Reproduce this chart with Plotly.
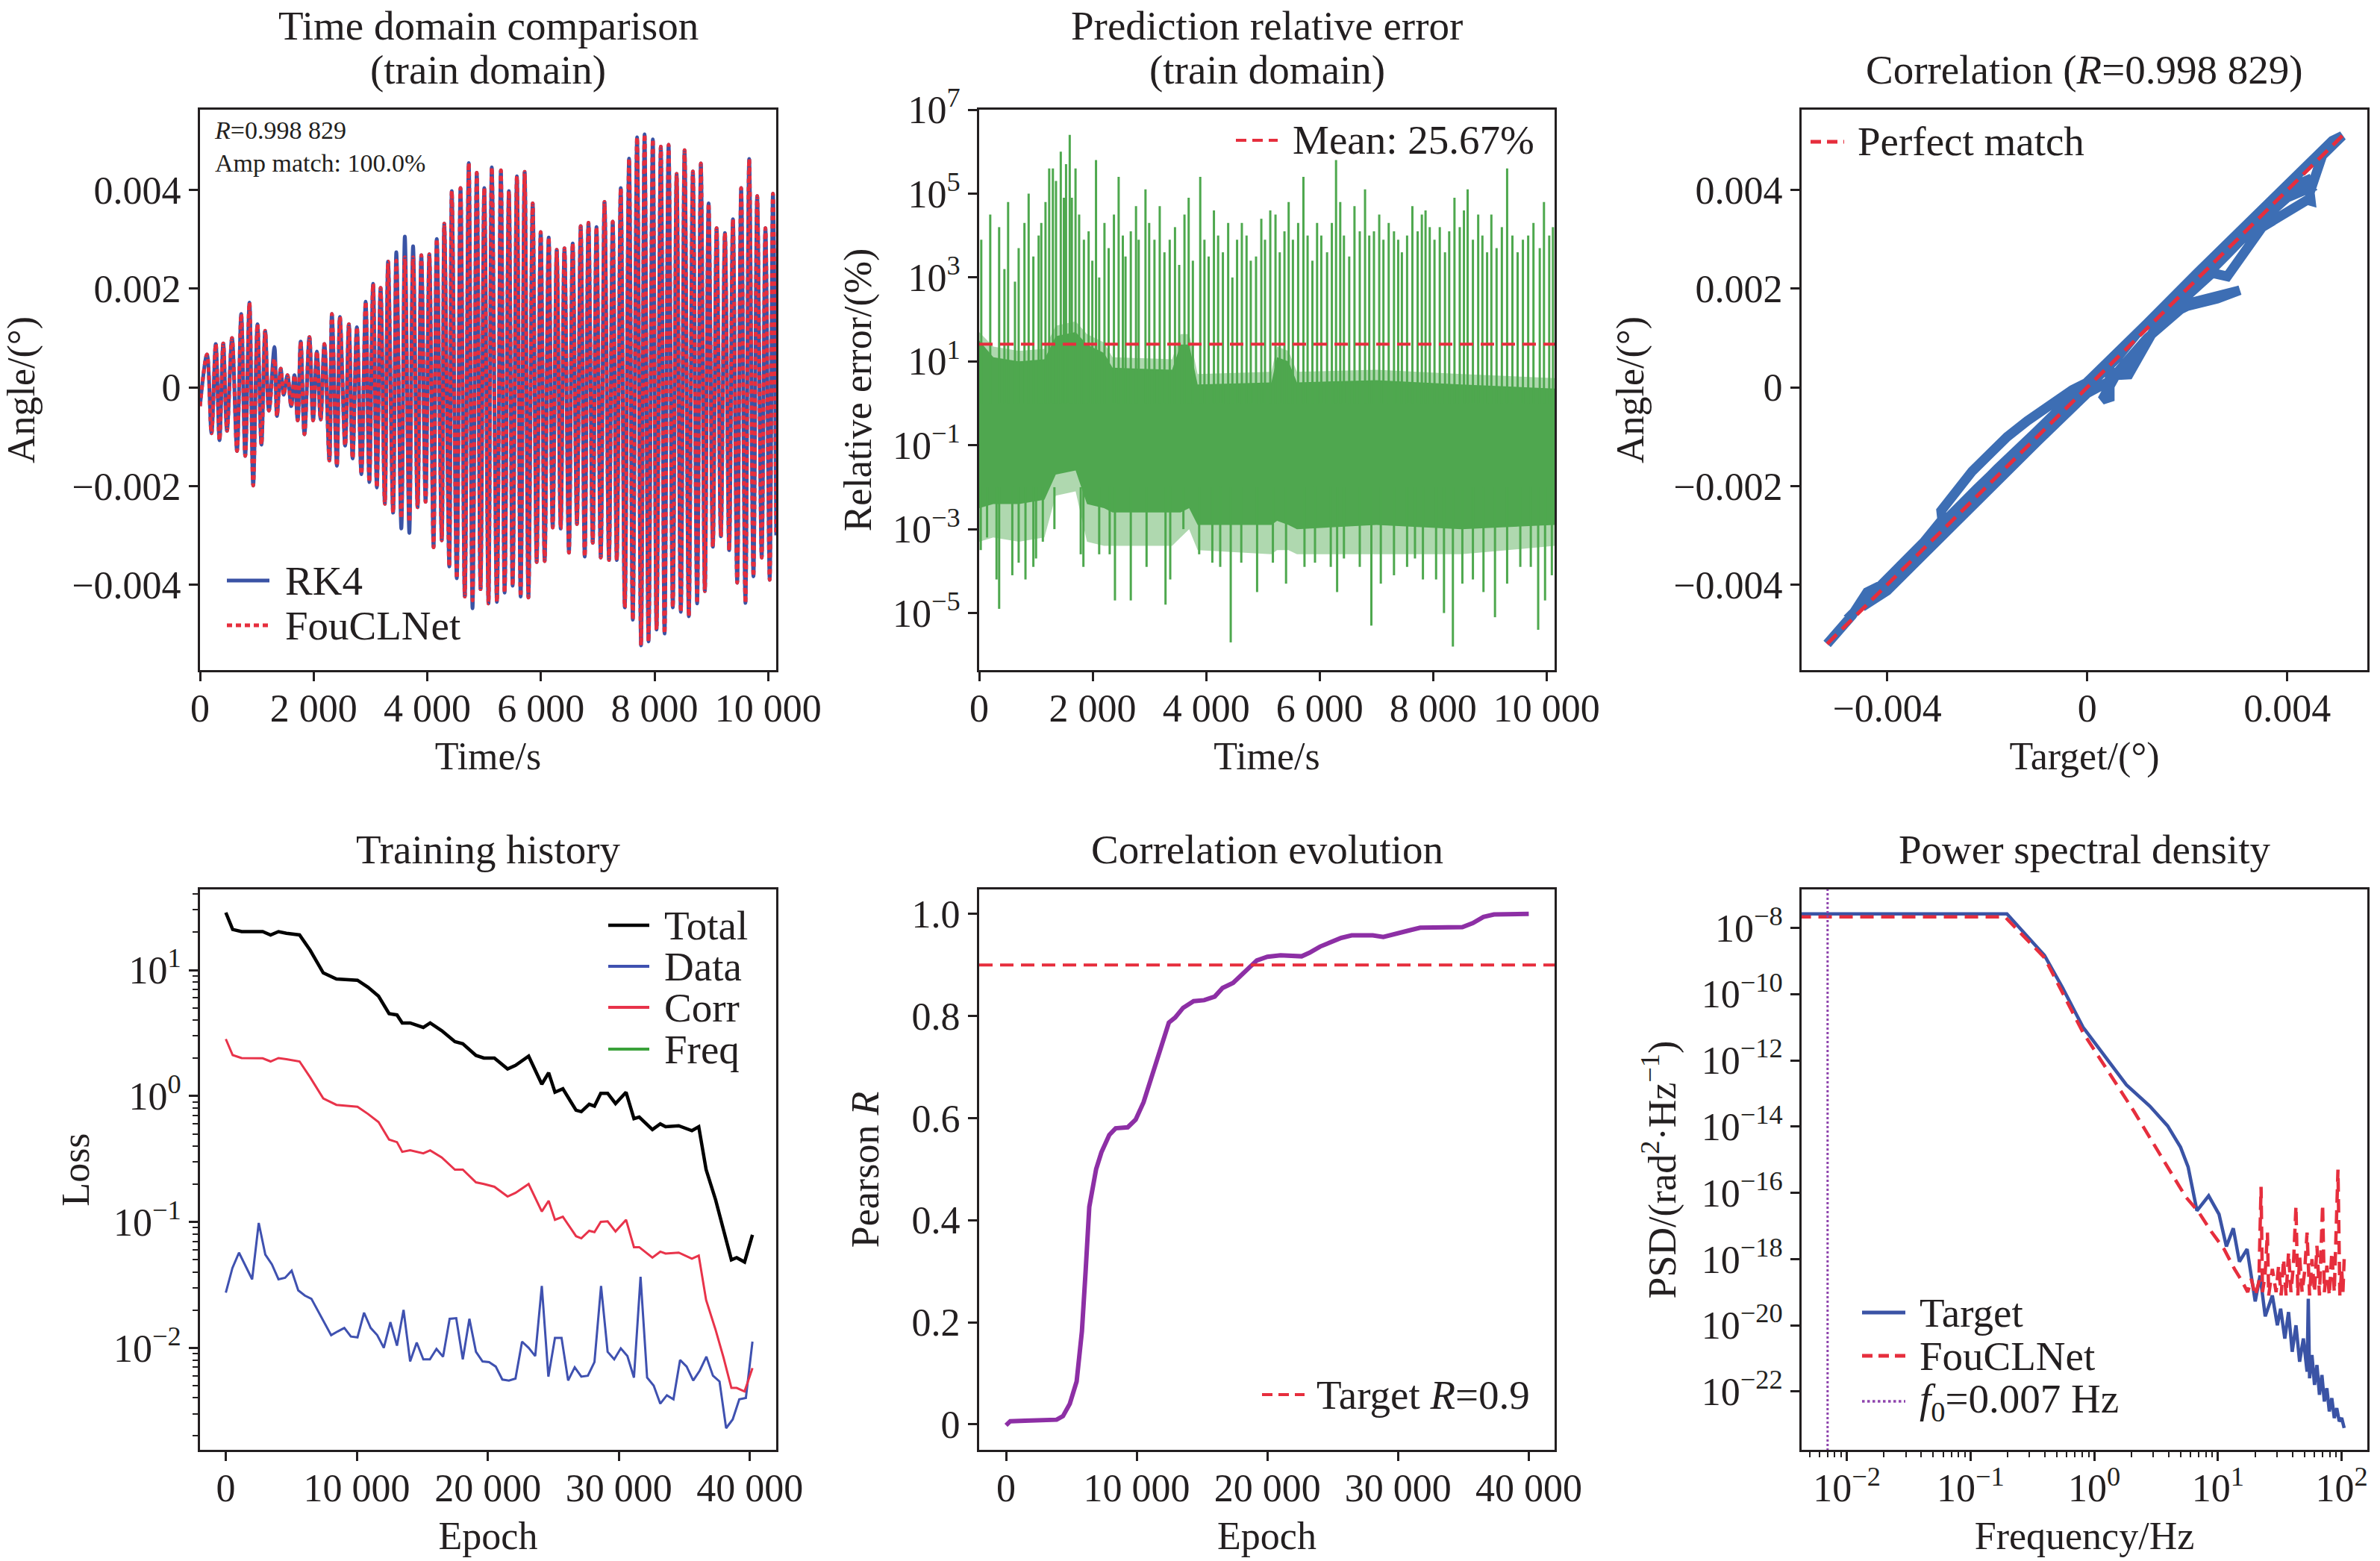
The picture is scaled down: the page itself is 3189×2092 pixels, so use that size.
import plotly.graph_objects as go
from plotly.subplots import make_subplots

# ---------------------------------------------------------------
# values
# ---------------------------------------------------------------

# (1) time domain: successive peaks / troughs of the RK4 curve
time_s = [0, 123, 202, 277, 343, 409, 475, 563, 651, 725,
          796, 870, 936, 1011, 1081, 1147, 1213, 1310, 1354, 1420,
          1473, 1539, 1605, 1662, 1719, 1772, 1838, 1925, 1991, 2057,
          2123, 2189, 2277, 2321, 2409, 2462, 2554, 2620, 2686, 2761,
          2840, 2915, 2980, 3046, 3112, 3178, 3253, 3310, 3398, 3455,
          3543, 3605, 3684, 3750, 3829, 3895, 3970, 4036, 4110, 4167,
          4255, 4299, 4387, 4431, 4519, 4585, 4660, 4730, 4796, 4871,
          4937, 5003, 5077, 5135,
          5225, 5295, 5361, 5436, 5502, 5577, 5643, 5714, 5780, 5855,
          5925, 5996, 6066, 6137, 6207, 6278, 6348, 6414, 6493, 6559,
          6634, 6700, 6771, 6837, 6912, 6978, 7053, 7119, 7198, 7264,
          7335, 7405, 7476, 7551, 7617, 7692, 7762, 7824, 7894, 7969,
          8035, 8110, 8176, 8247, 8321, 8388, 8462, 8528, 8603, 8674,
          8749, 8815, 8885, 8951, 9026, 9092, 9167, 9238, 9313, 9379,
          9454, 9524, 9599, 9665, 9740, 9806, 9885, 9951, 10026, 10083,
          10140]
rk4_angle = [-0.00038, 0.00067, -0.00093, 0.00088, -0.00107, 0.00089, -0.00088, 0.00100, -0.00129, 0.00149,
             -0.00139, 0.00172, -0.00199, 0.00128, -0.00116, 0.00115, -0.00047, 0.00082, -0.00058, 0.00038,
             -0.00015, 0.00025, -0.00038, 0.00025, -0.00067, 0.00093, -0.00095, 0.00102, -0.00067, 0.00073,
             -0.00065, 0.00088, -0.00148, 0.00149, -0.00159, 0.00143, -0.00118, 0.00128, -0.00144, 0.00122,
             -0.00176, 0.00174, -0.00192, 0.00210, -0.00203, 0.00202, -0.00236, 0.00255, -0.00254, 0.00274,
             -0.00286, 0.00306, -0.00295, 0.00286, -0.00243, 0.00268, -0.00232, 0.00270, -0.00324, 0.00301,
             -0.00310, 0.00332, -0.00363, 0.00398, -0.00387, 0.00404, -0.00424, 0.00455, -0.00448, 0.00435,
             -0.00409, 0.00404, -0.00438, 0.00446,
             -0.00435, 0.00440, -0.00416, 0.00398, -0.00402, 0.00428, -0.00424, 0.00437, -0.00426, 0.00373,
             -0.00354, 0.00315, -0.00352, 0.00304, -0.00284, 0.00279, -0.00286, 0.00282, -0.00335, 0.00292,
             -0.00277, 0.00327, -0.00343, 0.00334, -0.00315, 0.00325, -0.00345, 0.00376, -0.00350, 0.00336,
             -0.00350, 0.00404, -0.00446, 0.00464, -0.00471, 0.00507, -0.00523, 0.00513, -0.00515, 0.00503,
             -0.00491, 0.00488, -0.00499, 0.00492, -0.00446, 0.00433, -0.00455, 0.00481, -0.00464, 0.00438,
             -0.00438, 0.00454, -0.00413, 0.00373, -0.00323, 0.00323, -0.00302, 0.00313, -0.00330, 0.00341,
             -0.00396, 0.00404, -0.00437, 0.00463, -0.00383, 0.00388, -0.00345, 0.00323, -0.00390, 0.00393,
             -0.00300]
# FouCLNet sits on top of RK4 except at these extrema
fou_deviation = {1310: 0.00058, 3455: 0.00257, 3543: -0.00265, 3605: 0.00264,
                 3684: -0.00273, 3750: 0.00264, 4796: -0.00432}
r_text = "0.998 829"
amp_match = "100.0%"

# (2) relative error (log10 of %)
band_t = [0, 250, 700, 1150, 1350, 1700, 1900, 2200, 2350, 3400,
          3550, 3700, 3850, 5150, 5250, 5450, 5600, 7000, 8500, 10140]
band_hi = [1.5, 1.1, 1.0, 1.05, 1.6, 1.7, 1.4, 1.2, 0.85, 0.8,
           1.4, 1.4, 0.45, 0.5, 1.1, 1.0, 0.5, 0.55, 0.45, 0.35]
band_lo = [-2.5, -2.4, -2.4, -2.3, -1.7, -1.6, -2.4, -2.5, -2.6, -2.6,
           -2.6, -2.5, -2.9, -2.9, -2.8, -2.9, -3.0, -2.9, -3.0, -2.9]
band_outer_hi = [1.7, 1.35, 1.25, 1.3, 1.85, 1.95, 1.65, 1.45, 1.1, 1.05,
                 1.65, 1.65, 0.7, 0.75, 1.35, 1.25, 0.75, 0.8, 0.7, 0.6]
band_outer_lo = [-3.3, -3.2, -3.3, -3.2, -2.2, -2.1, -3.3, -3.4, -3.4, -3.4,
                 -3.2, -3.0, -3.5, -3.6, -3.5, -3.5, -3.6, -3.6, -3.6, -3.4]
spike_t = [37, 195, 352, 445, 510, 631, 696, 798, 872, 955,
           1048, 1095, 1169, 1234, 1299, 1354, 1438, 1493, 1531, 1596,
           1633, 1698, 1762, 1846, 1929, 1994, 2059, 2115, 2208, 2282,
           2375, 2458, 2532, 2579, 2672, 2764, 2811, 2931, 2996, 3089,
           3182, 3265, 3358, 3451, 3525, 3618, 3692, 3766, 3896, 3970,
           4044, 4137, 4211, 4295, 4388, 4462, 4545, 4629, 4712, 4786,
           4879, 4972, 5037, 5130, 5222, 5297, 5380, 5454, 5529, 5621,
           5714, 5788, 5872, 5955, 6029, 6131, 6215, 6289, 6363, 6428,
           6521, 6614, 6707, 6800, 6874, 6957, 7050, 7124, 7217, 7310,
           7384, 7449, 7541, 7634, 7727, 7801, 7866, 7940, 8024, 8117,
           8209, 8283, 8376, 8469, 8543, 8608, 8701, 8794, 8868, 8951,
           9026, 9118, 9211, 9304, 9397, 9489, 9582, 9675, 9768, 9879,
           9953, 10046, 10111]
spike_exp = [3.9, 4.5, 4.2, 3.2, 4.8, 2.9, 3.7, 4.3, 5.0, 3.5,
             4.0, 4.3, 4.8, 5.6, 5.6, 5.3, 6.0, 4.9, 5.7, 6.4,
             4.9, 5.6, 4.5, 3.9, 4.1, 3.4, 5.8, 3.0, 4.3, 3.7,
             4.5, 5.4, 4.0, 3.5, 4.1, 4.7, 3.9, 5.1, 4.3, 3.9,
             4.7, 3.6, 3.9, 4.2, 3.3, 4.5, 4.9, 3.4, 5.4, 3.9,
             3.5, 4.6, 4.0, 3.6, 4.3, 3.0, 3.9, 4.3, 4.0, 3.4,
             3.5, 4.4, 3.9, 4.6, 4.5, 3.6, 4.1, 4.8, 3.9, 4.3,
             5.4, 4.0, 3.4, 4.3, 4.0, 3.6, 4.3, 5.8, 4.8, 4.0,
             3.5, 4.7, 4.1, 5.1, 4.0, 4.1, 4.5, 3.9, 4.3, 4.1,
             3.9, 3.6, 4.0, 4.7, 4.1, 4.5, 4.6, 4.2, 3.9, 4.2,
             3.6, 4.1, 4.9, 4.2, 4.6, 5.1, 3.9, 4.5, 4.0, 3.6,
             4.5, 3.7, 4.2, 5.6, 4.0, 3.6, 3.9, 4.0, 4.3, 3.7,
             4.8, 4.0, 4.2]
dip_t = [28, 139, 306, 352, 584, 696, 816, 955, 1002, 1122,
         1326, 1790, 1837, 2115, 2300, 2393, 2672, 2950, 3284, 3367,
         3599, 3877, 4109, 4248, 4433, 4619, 4898, 5176, 5408, 5733,
         5918, 6196, 6308, 6428, 6707, 6911, 7078, 7310, 7541, 7680,
         7820, 8052, 8191, 8348, 8515, 8701, 8887, 9090, 9304, 9536,
         9721, 9851, 9972, 10092]
dip_exp = [-3.5, -3.2, -4.2, -4.9, -4.1, -3.8, -4.2, -3.9, -3.7, -3.3,
           -3.0, -3.6, -3.9, -3.6, -3.6, -4.7, -4.7, -3.9, -4.8, -4.2,
           -3.0, -3.6, -3.8, -3.9, -5.7, -3.8, -4.5, -3.8, -4.3, -3.9,
           -3.8, -3.9, -4.5, -3.7, -3.9, -5.3, -4.3, -4.1, -3.9, -3.7,
           -4.2, -4.2, -5.0, -5.8, -4.3, -4.2, -4.5, -5.1, -4.3, -3.9,
           -3.9, -5.4, -4.7, -4.1]
mean_err = 25.67

# (3) correlation path (target, prediction)
corr_target = [-0.00520, -0.00470, -0.00440, -0.00400, -0.00330, -0.00290, -0.00292, -0.00260, -0.00230, -0.00190,
               -0.00160, -0.00120, -0.00080, -0.00030, 0.00020, 0.00060, 0.00100, 0.00150, 0.00200, 0.00250,
               0.00300, 0.00350, 0.00400, 0.00440, 0.00447, 0.00400, 0.00330, 0.00280, 0.00200, 0.00140,
               0.00083, 0.00060, 0.00040, 0.00000, -0.00100, -0.00200, -0.00300, -0.00400, -0.00450, -0.00380,
               -0.00280, -0.00180, -0.00080, 0.00000, 0.00045, 0.00045, 0.00030, 0.00060, 0.00120, 0.00200,
               0.00305, 0.00260, 0.00200, 0.00150, 0.00250, 0.00280, 0.00350, 0.00440, 0.00447, 0.00445,
               0.00470, 0.00510, 0.00490, 0.00420, 0.00320, 0.00220, 0.00120, 0.00020, -0.00100, -0.00220,
               -0.00300, -0.00400, -0.00480]
corr_pred = [-0.00520, -0.00462, -0.00415, -0.00395, -0.00318, -0.00268, -0.00250, -0.00205, -0.00170, -0.00130,
             -0.00100, -0.00068, -0.00040, -0.00005, 0.00020, 0.00060, 0.00110, 0.00160, 0.00205, 0.00255,
             0.00305, 0.00350, 0.00402, 0.00420, 0.00405, 0.00385, 0.00322, 0.00270, 0.00190, 0.00128,
             0.00026, 0.00025, 0.00010, -0.00012, -0.00110, -0.00212, -0.00312, -0.00412, -0.00445, -0.00370,
             -0.00268, -0.00165, -0.00068, 0.00008, 0.00040, -0.00020, -0.00025, 0.00030, 0.00100, 0.00170,
             0.00197, 0.00180, 0.00165, 0.00140, 0.00232, 0.00225, 0.00325, 0.00380, 0.00378, 0.00395,
             0.00470, 0.00510, 0.00500, 0.00432, 0.00334, 0.00232, 0.00130, 0.00028, -0.00088, -0.00205,
             -0.00288, -0.00388, -0.00470]

# (4) training history
loss_epochs = [0, 523, 1206, 2814, 3417, 4020, 4623, 5628, 6432, 7437,
               8442, 10050, 10854, 11658, 12462, 13065, 13467, 14070, 15075, 15598,
               16482, 17487, 18090, 19095, 19698, 20502, 21507, 22110, 23115, 24120,
               24643, 25125, 25728, 26733, 27135, 27738, 28140, 28622, 29145, 29748,
               30552, 31155, 31557, 32562, 33165, 33567, 34572, 35577, 36100, 36662,
               37386, 37989, 38592, 38994, 39597, 40200]
total_loss = [28.6, 21.0, 20.2, 20.2, 19.0, 20.2, 19.6, 19.0, 14.4, 9.5,
              8.5, 8.3, 7.3, 6.2, 4.5, 4.4, 3.8, 3.8, 3.5, 3.8,
              3.3, 2.7, 2.6, 2.1, 2.0, 2.0, 1.64, 1.75, 2.07, 1.24,
              1.53, 1.07, 1.14, 0.77, 0.75, 0.86, 0.83, 1.05, 1.05, 0.87,
              1.07, 0.66, 0.68, 0.54, 0.60, 0.57, 0.58, 0.53, 0.57, 0.26,
              0.15, 0.087, 0.050, 0.052, 0.048, 0.079]
corr_loss = [2.83, 2.11, 2.0, 1.99, 1.88, 2.0, 1.96, 1.88, 1.41, 0.955,
             0.85, 0.82, 0.72, 0.62, 0.45, 0.43, 0.36, 0.37, 0.35, 0.37,
             0.325, 0.26, 0.26, 0.206, 0.20, 0.19, 0.159, 0.17, 0.20, 0.121,
             0.147, 0.104, 0.11, 0.077, 0.074, 0.085, 0.083, 0.10, 0.101, 0.084,
             0.104, 0.063, 0.063, 0.052, 0.058, 0.056, 0.057, 0.051, 0.054, 0.024,
             0.0139, 0.0084, 0.0048, 0.0048, 0.0045, 0.0069]
data_loss = [0.0274, 0.043, 0.057, 0.045, 0.035, 0.098, 0.055, 0.046, 0.035, 0.036,
             0.041, 0.0286, 0.026, 0.0245, 0.0195, 0.0155, 0.0126, 0.0135, 0.0144, 0.0123,
             0.0121, 0.019, 0.0144, 0.0126, 0.0100, 0.016, 0.0104, 0.020, 0.0078, 0.011,
             0.0081, 0.0081, 0.0098, 0.0085, 0.017, 0.0172, 0.0081, 0.017, 0.0093, 0.0078,
             0.0077, 0.0071, 0.0056, 0.0055, 0.0057, 0.0112, 0.010, 0.0086, 0.031, 0.0059,
             0.012, 0.012, 0.0055, 0.007, 0.0059, 0.006, 0.0077, 0.031, 0.0093, 0.0081,
             0.0099, 0.0086, 0.0058, 0.0366, 0.0058, 0.005, 0.0036, 0.0042, 0.0039, 0.0080,
             0.0071, 0.0055, 0.0066, 0.0085, 0.006, 0.0054, 0.0023, 0.0027, 0.0039, 0.004,
             0.0112]
data_loss_last_epoch = 40200

# (5) correlation evolution
r_epochs = [0, 323, 1452, 3064, 3871, 4355, 4879, 5403, 5806, 6088,
            6371, 6895, 7298, 7903, 8387, 9314, 9919, 10524, 11128, 11733,
            12459, 12943, 13548, 14354, 15160, 15967, 16572, 17378, 17983, 18588,
            19192, 19999, 21007, 22620, 23224, 24031, 24837, 25644, 26450, 28063,
            28869, 29676, 30885, 31692, 32901, 34917, 35723, 36530, 37336, 38546,
            40000]
pearson_r = [-0.002, 0.006, 0.007, 0.008, 0.009, 0.016, 0.040, 0.084, 0.182, 0.299,
             0.426, 0.500, 0.533, 0.567, 0.580, 0.582, 0.597, 0.631, 0.680, 0.729,
             0.787, 0.797, 0.816, 0.829, 0.831, 0.838, 0.855, 0.865, 0.880, 0.896,
             0.909, 0.916, 0.919, 0.917, 0.924, 0.936, 0.945, 0.953, 0.958, 0.958,
             0.955, 0.961, 0.968, 0.973, 0.974, 0.974, 0.982, 0.994, 0.999, 1.000,
             1.000]
target_r = 0.9

# (6) power spectral density (Hz, log10 rad^2/Hz)
psd_target_f = [0.004, 0.197, 0.396, 0.553, 0.811, 1.19, 1.82, 2.81, 3.92, 4.98,
                5.74, 6.76, 8.41, 10.2, 11.7, 13.3, 14.9, 17.2, 20.0, 21.9,
                24.1, 27.5, 30.2, 32.1, 34.7, 37.2, 39.8, 42.7, 45.7, 49.0,
                52.5, 53.7, 55.0, 57.5, 60.3, 63.1, 66.1, 69.2, 72.4, 75.9,
                79.4, 83.2, 87.1, 91.2, 95.5, 100.0, 104.7]
psd_target_exp = [-7.58, -7.58, -8.83, -9.80, -11.0, -11.83, -12.74, -13.38, -13.98, -14.62,
                  -15.22, -16.54, -16.09, -16.65, -17.62, -17.07, -18.08, -17.70, -19.28, -18.5,
                  -19.73, -19.1, -20.0, -19.5, -20.4, -19.6, -20.8, -20.0, -21.1, -20.4,
                  -21.4, -19.2, -21.6, -20.9, -21.8, -21.2, -22.1, -21.5, -22.3, -21.9,
                  -22.6, -22.2, -22.8, -22.5, -22.9, -22.8, -23.1]
psd_fou_f = [0.004, 0.190, 0.396, 0.553, 0.811, 1.31, 2.11, 3.40, 5.48, 6.95,
             8.83, 11.2, 13.6, 15.7, 17.4, 18.6, 20.0, 21.4, 22.3, 22.9,
             24.0, 25.1, 25.7, 27.5, 29.5, 30.9, 32.4, 33.9, 35.5, 37.2,
             38.9, 40.7, 42.7, 44.2, 45.7, 47.9, 50.1, 52.5, 55.0, 57.5,
             60.3, 63.1, 66.1, 70.1, 72.4, 75.9, 79.4, 83.2, 87.1, 93.3,
             96.6, 100.0, 102.3, 104.7]
psd_fou_exp = [-7.67, -7.67, -8.90, -9.95, -11.16, -12.36, -13.56, -14.84, -16.12, -16.57,
               -17.17, -17.70, -18.30, -18.68, -19.0, -18.6, -19.1, -18.7, -15.82, -19.0,
               -18.5, -17.2, -19.1, -18.3, -19.0, -18.2, -19.1, -18.0, -19.1, -17.8,
               -19.0, -18.2, -16.4, -19.1, -17.9, -19.0, -18.4, -17.2, -19.1, -18.0,
               -19.0, -17.6, -19.1, -16.35, -19.0, -18.2, -19.1, -17.8, -19.0, -15.3,
               -19.1, -18.3, -19.0, -18.0]
f0_hz = 0.007

# tick labels
time_ticks = [0, 2000, 4000, 6000, 8000, 10000]
time_ticktext = ["0", "2 000", "4 000", "6 000", "8 000", "10 000"]
angle_ticks = [0.004, 0.002, 0, -0.002, -0.004]
angle_ticktext = ["0.004", "0.002", "0", "\u22120.002", "\u22120.004"]
target_ticks = [-0.004, 0, 0.004]
target_ticktext = ["\u22120.004", "0", "0.004"]
err_exps = [7, 5, 3, 1, -1, -3, -5]
epoch_ticks = [0, 10000, 20000, 30000, 40000]
epoch_ticktext = ["0", "10 000", "20 000", "30 000", "40 000"]
loss_exps = [1, 0, -1, -2]
r_ticks = [0, 0.2, 0.4, 0.6, 0.8, 1.0]
r_ticktext = ["0", "0.2", "0.4", "0.6", "0.8", "1.0"]
freq_exps = [-2, -1, 0, 1, 2]
psd_exps = [-8, -10, -12, -14, -16, -18, -20, -22]


def pow_label(e):
    s = str(e).replace("-", "\u2212")
    return "10<sup>" + s + "</sup>"


def pw(vals):
    return [10 ** v for v in vals]


# ---------------------------------------------------------------
FONT = "Liberation Serif, Times New Roman, serif"
INK = "#231f20"
BLUE = "#3a53a5"
RED = "#e62e3d"
GREEN = "#4ea84e"
PURPLE = "#8d2fa5"
STEEL = "#3d6eb4"
DASH = "18px,10px"
W, H = 3189, 2092

fig = make_subplots(rows=2, cols=3)

# --- (1) time domain
fou_angle = [fou_deviation.get(t, v) for t, v in zip(time_s, rk4_angle)]
fig.add_trace(go.Scatter(x=time_s, y=rk4_angle, mode="lines",
                         line=dict(color=BLUE, width=5, shape="spline")), row=1, col=1)
fig.add_trace(go.Scatter(x=time_s, y=fou_angle, mode="lines",
                         line=dict(color=RED, width=5, dash="6px,5px", shape="spline")), row=1, col=1)

# --- (2) relative error
fig.add_trace(go.Scatter(x=band_t, y=pw(band_outer_lo), mode="lines", line=dict(width=0),
                         hoverinfo="skip"), row=1, col=2)
fig.add_trace(go.Scatter(x=band_t, y=pw(band_outer_hi), mode="lines", line=dict(width=0),
                         fill="tonexty", fillcolor="rgba(78,168,78,0.45)", hoverinfo="skip"), row=1, col=2)
fig.add_trace(go.Scatter(x=band_t, y=pw(band_lo), mode="lines", line=dict(width=0),
                         hoverinfo="skip"), row=1, col=2)
fig.add_trace(go.Scatter(x=band_t, y=pw(band_hi), mode="lines", line=dict(width=0),
                         fill="tonexty", fillcolor="rgba(74,164,74,0.95)", hoverinfo="skip"), row=1, col=2)
sx, sy = [], []
for t, e in zip(spike_t, spike_exp):
    sx += [t, t, None]
    sy += [1.0, 10 ** e, None]
for t, e in zip(dip_t, dip_exp):
    sx += [t, t, None]
    sy += [0.01, 10 ** e, None]
fig.add_trace(go.Scatter(x=sx, y=sy, mode="lines", line=dict(color=GREEN, width=3),
                         hoverinfo="skip"), row=1, col=2)
fig.add_trace(go.Scatter(x=[0, 10140], y=[mean_err, mean_err], mode="lines",
                         line=dict(color=RED, width=4, dash=DASH)), row=1, col=2)

# --- (3) correlation
fig.add_trace(go.Scatter(x=corr_target, y=corr_pred, mode="lines",
                         line=dict(color=STEEL, width=13)), row=1, col=3)
lo, hi = min(corr_target), max(corr_target)
fig.add_trace(go.Scatter(x=[lo, hi], y=[lo, hi], mode="lines",
                         line=dict(color=RED, width=5, dash=DASH)), row=1, col=3)

# --- (4) training history
data_epochs = [i * data_loss_last_epoch / (len(data_loss) - 1) for i in range(len(data_loss))]
fig.add_trace(go.Scatter(x=loss_epochs, y=total_loss, mode="lines",
                         line=dict(color="#000000", width=4.5)), row=2, col=1)
fig.add_trace(go.Scatter(x=data_epochs, y=data_loss, mode="lines",
                         line=dict(color="#3f51b0", width=3)), row=2, col=1)
fig.add_trace(go.Scatter(x=loss_epochs, y=corr_loss, mode="lines",
                         line=dict(color="#e8334a", width=3)), row=2, col=1)

# --- (5) correlation evolution
fig.add_trace(go.Scatter(x=r_epochs, y=pearson_r, mode="lines",
                         line=dict(color=PURPLE, width=6)), row=2, col=2)
fig.add_trace(go.Scatter(x=[-2056, 41975], y=[target_r, target_r], mode="lines",
                         line=dict(color=RED, width=4, dash=DASH)), row=2, col=2)

# --- (6) PSD
fig.add_trace(go.Scatter(x=psd_target_f, y=pw(psd_target_exp), mode="lines",
                         line=dict(color=BLUE, width=4.5)), row=2, col=3)
fig.add_trace(go.Scatter(x=psd_fou_f, y=pw(psd_fou_exp), mode="lines",
                         line=dict(color=RED, width=4.5, dash=DASH)), row=2, col=3)
fig.add_trace(go.Scatter(x=[f0_hz, f0_hz], y=[1e-25, 1e-6], mode="lines",
                         line=dict(color="#8e44ad", width=3, dash="dot")), row=2, col=3)

fig.update_traces(showlegend=False)

# ---------------------------------------------------------------
# layout
xdom = [[268 / W, 1040 / W], [1312 / W, 2083 / W], [2414 / W, 3172 / W]]
ydom = [[1 - 898 / H, 1 - 147 / H], [1 - 1943 / H, 1 - 1192 / H]]

tickfont = dict(family=FONT, size=52, color=INK)
base = dict(showline=True, linewidth=3, linecolor=INK, mirror=True,
            ticks="outside", ticklen=12, tickwidth=2.5, tickcolor=INK,
            showgrid=False, zeroline=False, tickfont=tickfont, tickmode="array",
            automargin=False)


def ax(title, standoff, **kw):
    d = dict(base)
    d["title"] = dict(text=title, font=dict(family=FONT, size=52, color=INK), standoff=standoff)
    d.update(kw)
    return d


def xax(title, **kw):
    return ax(title, 18, ticklabelstandoff=-8, **kw)


minor_loss = [k * 10 ** e for e in range(-3, 2) for k in range(2, 10)]
minor_freq = [k * 10 ** e for e in range(-3, 2) for k in range(2, 10)]
minor_style = dict(ticks="outside", ticklen=7, tickwidth=2, tickcolor=INK, showgrid=False)

fig.update_layout(
    template="none",
    width=W, height=H, margin=dict(l=0, r=0, t=0, b=0, autoexpand=False),
    paper_bgcolor="white", plot_bgcolor="white", showlegend=False,
    font=dict(family=FONT, size=52, color=INK),
    xaxis=xax("Time/s", domain=xdom[0], range=[0, 10140],
              tickvals=time_ticks, ticktext=time_ticktext),
    yaxis=ax("Angle/(\u00b0)", 46, domain=ydom[0], range=[-0.00573, 0.00563],
             tickvals=angle_ticks, ticktext=angle_ticktext),
    xaxis2=xax("Time/s", domain=xdom[1], range=[0, 10140],
               tickvals=time_ticks, ticktext=time_ticktext),
    yaxis2=ax("Relative error/(%)", 12, domain=ydom[0], type="log", range=[-6.36, 7.0],
              tickvals=pw(err_exps), ticktext=[pow_label(e) for e in err_exps]),
    xaxis3=xax("Target/(\u00b0)", domain=xdom[2], range=[-0.00571, 0.0056],
               tickvals=target_ticks, ticktext=target_ticktext),
    yaxis3=ax("Angle/(\u00b0)", 24, domain=ydom[0], range=[-0.00573, 0.00563],
              tickvals=angle_ticks, ticktext=angle_ticktext),
    xaxis4=xax("Epoch", domain=xdom[0], range=[-1970, 42010],
               tickvals=epoch_ticks, ticktext=epoch_ticktext),
    yaxis4=ax("Loss", 16, domain=ydom[1], type="log", range=[-2.81, 1.64],
              tickvals=pw(loss_exps), ticktext=[pow_label(e) for e in loss_exps],
              minor=dict(tickmode="array", tickvals=minor_loss, **minor_style)),
    xaxis5=xax("Epoch", domain=xdom[1], range=[-2056, 41975],
               tickvals=epoch_ticks, ticktext=epoch_ticktext),
    yaxis5=ax("Pearson <i>R</i>", 28, domain=ydom[1], range=[-0.05, 1.048],
              tickvals=r_ticks, ticktext=r_ticktext),
    xaxis6=xax("Frequency/Hz", domain=xdom[2], type="log", range=[-2.365, 2.207],
               tickvals=pw(freq_exps), ticktext=[pow_label(e) for e in freq_exps],
               minor=dict(tickmode="array", tickvals=minor_freq, **minor_style)),
    yaxis6=ax("PSD/(rad<sup>2</sup>\u00b7Hz<sup>\u22121</sup>)", 18, domain=ydom[1], type="log",
              range=[-23.76, -6.84],
              tickvals=pw(psd_exps), ticktext=[pow_label(e) for e in psd_exps]),
)

# subplot titles (two-line titles are set line by line for tighter spacing)
titles = [["Time domain comparison", "(train domain)"],
          ["Prediction relative error", "(train domain)"],
          ["Correlation (<i>R</i>=%s)" % r_text],
          ["Training history"], ["Correlation evolution"], ["Power spectral density"]]
for i, lines in enumerate(titles):
    r, c = divmod(i, 3)
    for k, text in enumerate(reversed(lines)):
        fig.add_annotation(text=text, xref="paper", yref="paper",
                           x=(xdom[c][0] + xdom[c][1]) / 2, y=ydom[r][1],
                           xanchor="center", yanchor="bottom", yshift=21 + 59 * k,
                           showarrow=False, font=dict(family=FONT, size=55, color=INK))

fig.add_annotation(text="<i>R</i>=%s<br>Amp match: %s" % (r_text, amp_match),
                   xref="paper", yref="paper", x=285 / W, y=1 - 154 / H,
                   xanchor="left", yanchor="top", align="left", showarrow=False,
                   font=dict(family=FONT, size=34, color=INK))

# legends: short line sample + label, placed inside each panel (pixel positions)
legends = [
    # x_line_start, x_line_end, x_text, [(y_center, label, colour, dash, width), ...]
    (304, 361, 380, [(778, "RK4", BLUE, "solid", 5),
                     (838, "FouCLNet", RED, "7px,5px", 5)]),
    (1656, 1712, 1730, [(188, "Mean: %.2f%%" % mean_err, RED, "14px,8px", 4)]),
    (2426, 2471, 2487, [(190, "Perfect match", RED, "14px,8px", 5)]),
    (815, 870, 888, [(1240, "Total", "#000000", "solid", 4.5),
                     (1295, "Data", "#3f51b0", "solid", 4),
                     (1350, "Corr", "#e8334a", "solid", 4),
                     (1406, "Freq", "#3aa13a", "solid", 4)]),
    (1691, 1748, 1762, [(1869, "Target <i>R</i>=%.1f" % target_r, RED, "14px,8px", 4)]),
    (2495, 2553, 2570, [(1759, "Target", BLUE, "solid", 5),
                        (1817, "FouCLNet", RED, "14px,8px", 5),
                        (1878, "<i>f</i><sub>0</sub>=%.3f Hz" % f0_hz, "#8e44ad", "dot", 3.5)]),
]
for x0, x1, xt, rows in legends:
    for yc, label, col, dash, wd in rows:
        fig.add_shape(type="line", xref="paper", yref="paper",
                      x0=x0 / W, x1=x1 / W, y0=1 - yc / H, y1=1 - yc / H,
                      line=dict(color=col, width=wd, dash=dash))
        fig.add_annotation(text=label, xref="paper", yref="paper", x=xt / W, y=1 - yc / H,
                           xanchor="left", yanchor="middle", showarrow=False,
                           font=dict(family=FONT, size=55, color=INK))

fig.write_html("out.html", config={"displayModeBar": False},
               post_script="document.body.style.margin='0px';")
